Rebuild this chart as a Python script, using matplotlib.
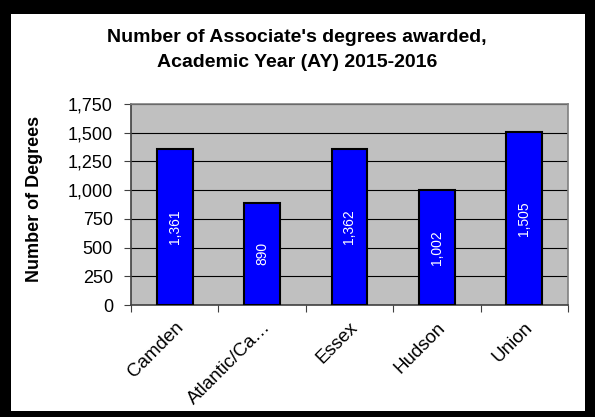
import matplotlib.pyplot as plt
from matplotlib.patches import Rectangle
from matplotlib.ticker import FuncFormatter
from matplotlib.transforms import ScaledTranslation
import numpy as np

plt.rcParams['font.family'] = ['Liberation Sans', 'DejaVu Sans']

counties = ["Camden", "Atlantic/Ca\u2026", "Essex", "Hudson", "Union"]
degrees = [1361, 890, 1362, 1002, 1505]
yticks = [0, 250, 500, 750, 1000, 1250, 1500, 1750]

fig = plt.figure(figsize=(5.95, 4.17), dpi=100)
fig.patch.set_facecolor("black")
# white panel inside the black frame
fig.patches.append(Rectangle((11 / 595, 6 / 417), 574 / 595, 397 / 417,
                             transform=fig.transFigure, facecolor="white",
                             edgecolor="none", zorder=-5))

ax = fig.add_axes([131 / 595, 1 - 305 / 417, 437 / 595, 201 / 417])
ax.set_zorder(2)
ax.set_facecolor("#C0C0C0")

x = np.arange(len(counties))
bars = ax.bar(x, degrees, width=0.41, color="#0000FF", edgecolor="black",
              linewidth=1.5, zorder=3)

for b, v in zip(bars, degrees):
    ax.text(b.get_x() + b.get_width() / 2, v / 2, f"{v:,}", rotation=90,
            ha="center", va="center", color="white", fontsize=10, zorder=4)

ax.set_xlim(-0.5, len(counties) - 0.5)
ax.set_ylim(0, 1750)
ax.set_yticks(yticks)
ax.yaxis.set_major_formatter(FuncFormatter(lambda v, p: f"{int(v):,}"))
ax.grid(axis="y", color="black", linewidth=0.8, zorder=1)
ax.set_axisbelow(True)

ax.set_xticks(x)
ax.set_xticklabels(counties, rotation=45, ha="right", rotation_mode="anchor",
                   fontsize=13.5)
shift = ScaledTranslation(-6 / 100, 0, fig.dpi_scale_trans)
for lbl in ax.get_xticklabels():
    lbl.set_transform(lbl.get_transform() + shift)
ax.set_xticks(np.arange(len(counties) + 1) - 0.5, minor=True)
ax.tick_params(axis="x", which="major", length=0, pad=10)
ax.tick_params(axis="x", which="minor", length=5, width=0.8, color="#404040")
ax.tick_params(axis="y", length=5, width=0.8, labelsize=13, pad=8,
               color="#404040")

ax.spines["top"].set_color("#808080")
ax.spines["right"].set_color("#808080")
ax.spines["left"].set_color("#404040")
ax.spines["bottom"].set_color("#404040")
for s in ax.spines.values():
    s.set_linewidth(1.2)
    s.set_zorder(2.5)

ax.set_ylabel("Number of Degrees", fontsize=13, fontweight="bold")
ax.yaxis.set_label_coords(-(131 - 43) / 437, 0.53)

fig.text(297 / 595, 1 - 50 / 417,
         "Number of Associate's degrees awarded,\nAcademic Year (AY) 2015-2016",
         ha="center", va="center", fontsize=14, fontweight="bold",
         linespacing=1.55, zorder=3)

fig.savefig("out.png", dpi=100, facecolor=fig.get_facecolor())
